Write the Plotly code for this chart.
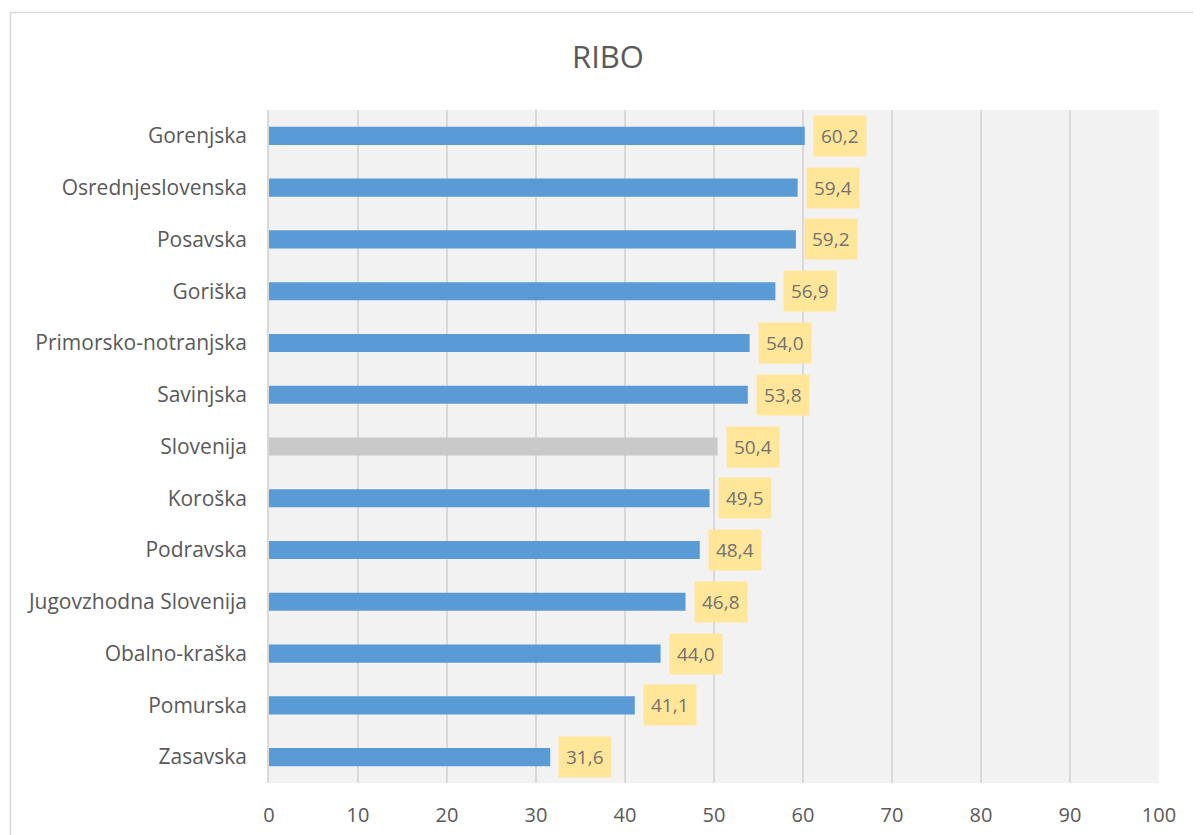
import plotly.graph_objects as go

categories = ["Gorenjska", "Osrednjeslovenska", "Posavska", "Goriška", "Primorsko-notranjska",
              "Savinjska", "Slovenija", "Koroška", "Podravska", "Jugovzhodna Slovenija",
              "Obalno-kraška", "Pomurska", "Zasavska"]
values = [60.2, 59.4, 59.2, 56.9, 54.0, 53.8, 50.4, 49.5, 48.4, 46.8, 44.0, 41.1, 31.6]
highlight = "Slovenija"
tick_vals = [0, 10, 20, 30, 40, 50, 60, 70, 80, 90, 100]

colors = ["#c9c9c9" if c == highlight else "#5b9bd5" for c in categories]

fig = go.Figure(go.Bar(
    x=values, y=categories, orientation="h",
    marker=dict(color=colors, line=dict(width=0)),
    hoverinfo="skip",
))

annotations = []
for c, v in zip(categories, values):
    annotations.append(dict(
        x=v, y=c, xref="x", yref="y", text=f"{v:.1f}".replace(".", ","),
        showarrow=False, xanchor="left", xshift=8,
        bgcolor="#ffe699", borderpad=7,
        font=dict(family="Open Sans", size=19, color="#767171"),
    ))

OFF = 8  # page body offset
W, H = 1201 - OFF, 835 - OFF
L, T = 269 - OFF, 110 - OFF
R = W - (1159 - OFF)
B = H - (783 - OFF)
pw, ph = W - L - R, H - T - B

def px_to_paper_x(px):
    return (px - OFF - L) / pw

def px_to_paper_y(py):
    return (H - B - (py - OFF)) / ph

fig.update_layout(
    width=W, height=H,
    margin=dict(l=L, r=R, t=T, b=B, autoexpand=False),
    paper_bgcolor="white",
    plot_bgcolor="#f2f2f2",
    bargap=0.65,
    showlegend=False,
    title=dict(text="RIBO", x=px_to_paper_x(608), xref="paper", xanchor="center",
               y=1 - (57 - OFF) / H, yanchor="middle",
               font=dict(family="Open Sans", size=31, color="#595959")),
    xaxis=dict(range=[0, 100], tickvals=tick_vals, showgrid=True, gridcolor="#d9d9d9",
               gridwidth=1.5, zeroline=False, showline=False, automargin=False,
               tickfont=dict(family="Open Sans", size=20, color="#595959"), ticks="",
               ticklabelstandoff=18, fixedrange=True),
    yaxis=dict(autorange="reversed", categoryorder="array", categoryarray=categories,
               showgrid=False, zeroline=False, showline=True, linecolor="#d9d9d9",
               linewidth=1.5, automargin=False,
               tickfont=dict(family="Open Sans", size=21, color="#595959"), ticks="",
               ticklabelstandoff=16, fixedrange=True),
    annotations=annotations,
    shapes=[dict(type="rect", xref="paper", yref="paper",
                 x0=px_to_paper_x(10.5), x1=px_to_paper_x(1230),
                 y0=px_to_paper_y(870), y1=px_to_paper_y(12.5),
                 line=dict(color="#d9d9d9", width=1.5), fillcolor="rgba(0,0,0,0)",
                 layer="below")],
)

fig.write_html("out.html")
